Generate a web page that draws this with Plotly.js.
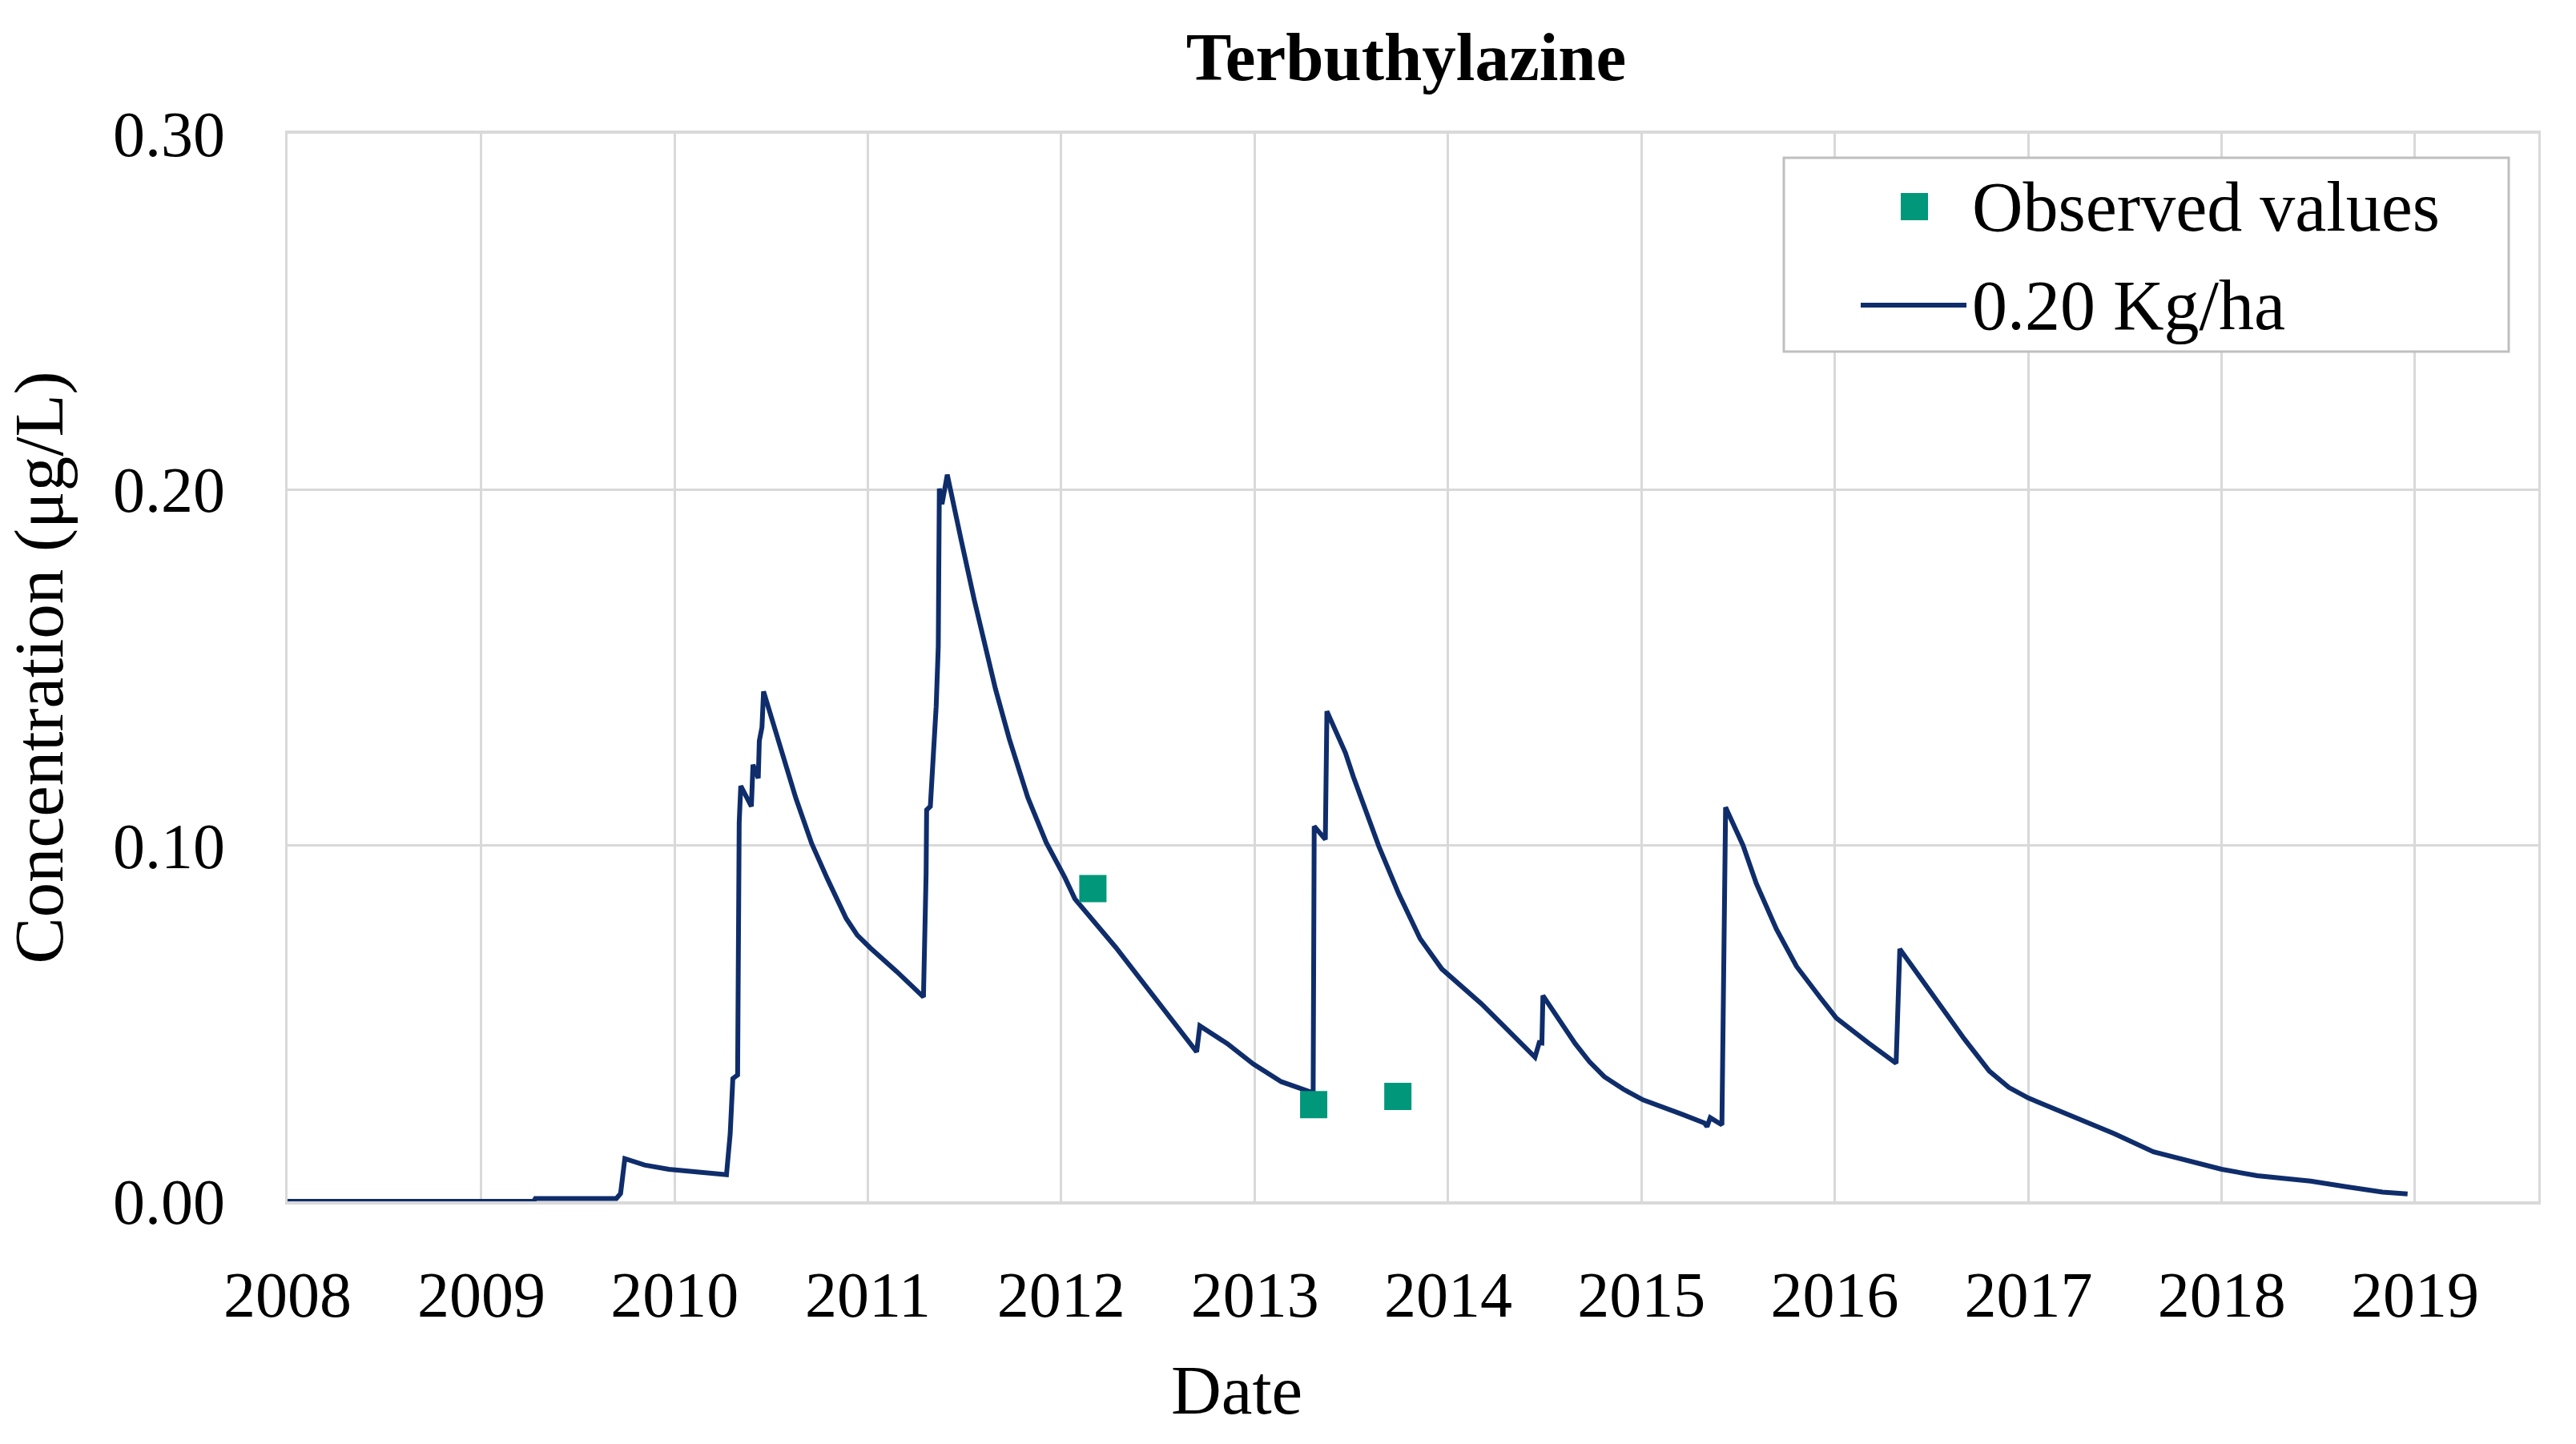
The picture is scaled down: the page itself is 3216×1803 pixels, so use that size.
<!DOCTYPE html>
<html>
<head>
<meta charset="utf-8">
<script src="https://cdn.plot.ly/plotly-3.0.1.min.js"></script>
<style>html,body{margin:0;padding:0;background:#fff;}</style>
</head>
<body>
<div id="chart" style="width:3216px;height:1803px;"></div>
<script>
// Simulated concentration series (0.20 Kg/ha)
const simDates = [
  '2008-01-01','2009-04-10','2009-04-13','2009-09-13','2009-09-21','2009-09-29','2009-11-05','2009-12-21',
  '2010-04-09','2010-04-16','2010-04-21','2010-04-30','2010-05-03','2010-05-06','2010-05-26','2010-05-29',
  '2010-06-08','2010-06-10','2010-06-15','2010-06-18','2010-08-18','2010-09-17','2010-10-17','2010-11-21',
  '2010-12-12','2011-01-05','2011-02-25','2011-04-16','2011-04-21','2011-04-22','2011-04-29','2011-05-02',
  '2011-05-07','2011-05-10','2011-05-14','2011-05-16','2011-05-21','2011-05-31','2011-06-26','2011-07-21',
  '2011-08-30','2011-09-25','2011-10-30','2011-12-04','2012-01-08','2012-01-27','2012-04-13','2012-07-24',
  '2012-09-13','2012-09-19','2012-10-12','2012-11-10','2012-12-29','2013-02-20','2013-04-21','2013-04-23',
  '2013-05-14','2013-05-17','2013-06-21','2013-07-06','2013-08-23','2013-09-30','2013-11-09','2013-12-20',
  '2014-03-05','2014-06-14','2014-06-22','2014-06-27','2014-06-29','2014-08-29','2014-09-25','2014-10-23',
  '2014-11-28','2015-01-04','2015-03-18','2015-04-30','2015-05-05','2015-05-11','2015-06-02','2015-06-09',
  '2015-07-12','2015-08-06','2015-09-13','2015-10-21','2015-12-06','2016-01-04','2016-03-05','2016-04-26',
  '2016-05-03','2016-07-10','2016-09-02','2016-10-19','2016-11-25','2017-01-01','2017-04-06','2017-06-12',
  '2017-08-25','2017-10-26','2018-01-01','2018-03-09','2018-06-18','2018-08-24','2018-11-01','2018-12-18'
];
const simConc = [
  0.0000,0.0000,0.0008,0.0008,0.0022,0.0120,0.0102,0.0090,
  0.0075,0.0190,0.0345,0.0355,0.1065,0.1167,0.1110,0.1227,
  0.1189,0.1294,0.1332,0.1433,0.1133,0.1005,0.0905,0.0795,
  0.0748,0.0713,0.0645,0.0574,0.0920,0.1100,0.1110,0.1186,
  0.1370,0.1390,0.1560,0.2003,0.1959,0.2042,0.1860,0.1690,
  0.1440,0.1300,0.1135,0.1008,0.0910,0.0850,0.0714,0.0521,
  0.0420,0.0493,0.0471,0.0443,0.0386,0.0336,0.0305,0.1054,
  0.1017,0.1377,0.1260,0.1193,0.0998,0.0863,0.0738,0.0653,
  0.0555,0.0405,0.0446,0.0445,0.0578,0.0443,0.0392,0.0350,
  0.0315,0.0285,0.0245,0.0220,0.0210,0.0235,0.0215,0.1107,
  0.1000,0.0893,0.0765,0.0660,0.0570,0.0515,0.0445,0.0388,
  0.0709,0.0569,0.0456,0.0366,0.0320,0.0290,0.0230,0.0190,
  0.0139,0.0117,0.0090,0.0072,0.0057,0.0041,0.0026,0.0021
];
// Observed values
const obsDates = ['2012-03-01','2013-04-22','2013-09-28'];
const obsConc = [0.0879,0.0272,0.0295];

const yTicks = [0, 0.1, 0.2, 0.3];
const seriesNames = ['Observed values', '0.20 Kg/ha'];

const serif = 'Liberation Serif, Times New Roman, serif';
const gridCol = '#d9d9d9';
const lineCol = '#0f2d6b';
const obsCol = '#00977a';

const traces = [
  {
    type: 'scatter', mode: 'lines', name: seriesNames[1],
    x: simDates, y: simConc,
    line: {color: lineCol, width: 6},
    showlegend: false
  },
  {
    type: 'scatter', mode: 'markers', name: seriesNames[0],
    x: obsDates, y: obsConc,
    marker: {symbol: 'square', size: 34, color: obsCol, line: {width: 0}},
    showlegend: false
  }
];

// Legend box drawn in paper coordinates (plot area 359..3169 x 167..1500 px)
const px = x => (x - 359) / 2810;
const py = y => (1500 - y) / 1333;

const layout = {
  width: 3216, height: 1803,
  margin: {l: 359, r: 47, t: 167, b: 303},
  paper_bgcolor: '#ffffff', plot_bgcolor: '#ffffff',
  showlegend: false,
  title: {
    text: 'Terbuthylazine',
    font: {family: serif, size: 85, color: '#000', weight: 'bold'},
    x: 0.497, xref: 'paper', y: 1 - 70/1803, yref: 'container', yanchor: 'middle'
  },
  xaxis: {
    type: 'date',
    range: ['2008-01-01', '2019-08-22'],
    tick0: '2008-01-01', dtick: 'M12', tickformat: '%Y',
    showgrid: true, gridcolor: gridCol, gridwidth: 3,
    showline: true, linecolor: gridCol, linewidth: 4, mirror: true,
    zeroline: false, ticks: '',
    ticklabelstandoff: 44,
    tickfont: {family: serif, size: 80, color: '#000'},
    automargin: false
  },
  yaxis: {
    range: [0, 0.3],
    tickvals: yTicks, tickformat: '.2f',
    showgrid: true, gridcolor: gridCol, gridwidth: 3,
    showline: true, linecolor: gridCol, linewidth: 3, mirror: true,
    zeroline: false, ticks: '',
    ticklabelstandoff: 59,
    tickfont: {family: serif, size: 80, color: '#000'},
    title: {text: 'Concentration (μg/L)', font: {family: serif, size: 87, color: '#000'}, standoff: 38},
    automargin: false
  },
  shapes: [
    {type: 'rect', xref: 'paper', yref: 'paper', x0: px(2227), x1: px(3132), y0: py(439), y1: py(197),
     line: {color: '#bfbfbf', width: 3}, fillcolor: '#ffffff', layer: 'above'},
    {type: 'rect', xref: 'paper', yref: 'paper', x0: px(2373), x1: px(2407), y0: py(275), y1: py(241),
     line: {width: 0}, fillcolor: obsCol, layer: 'above'},
    {type: 'line', xref: 'paper', yref: 'paper', x0: px(2323), x1: px(2455), y0: py(381), y1: py(381),
     line: {color: lineCol, width: 6}, layer: 'above'}
  ],
  annotations: [
    {text: 'Date', xref: 'paper', yref: 'paper', x: px(1544), y: py(1735), xanchor: 'center', yanchor: 'middle',
     showarrow: false, font: {family: serif, size: 87, color: '#000'}},
    {text: seriesNames[0], xref: 'paper', yref: 'paper', x: px(2460), y: py(258), xanchor: 'left', yanchor: 'middle',
     showarrow: false, font: {family: serif, size: 88, color: '#000'}},
    {text: seriesNames[1], xref: 'paper', yref: 'paper', x: px(2460), y: py(381), xanchor: 'left', yanchor: 'middle',
     showarrow: false, font: {family: serif, size: 88, color: '#000'}}
  ]
};

Plotly.newPlot('chart', traces, layout, {staticPlot: true, displayModeBar: false});
</script>
</body>
</html>
